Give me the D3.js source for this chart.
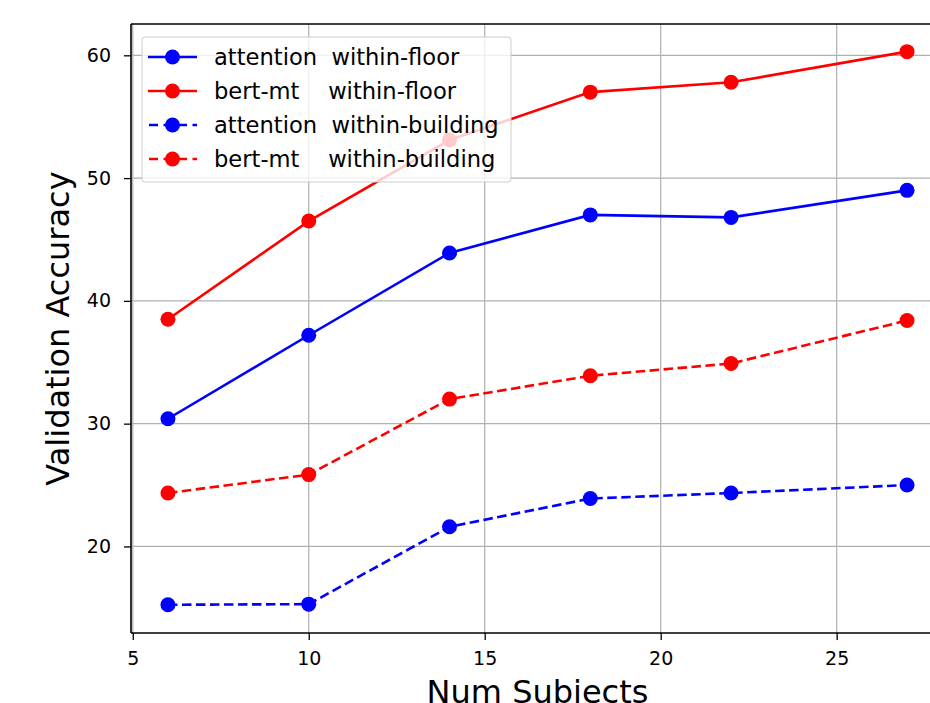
<!DOCTYPE html>
<html>
<head>
<meta charset="utf-8">
<script src="https://cdn.jsdelivr.net/npm/d3@7"></script>
<style>
  body { margin: 0; background: #fff; overflow: hidden; }
  text { font-family: "DejaVu Sans", sans-serif; fill: #000; }
</style>
</head>
<body>
<script>
// number of subjects on the x axis
var subjects = [6, 10, 14, 18, 22, 27];

// validation accuracy per model / setting
var attentionFloor    = [30.4, 37.2, 43.9, 47.0, 46.8, 49.0];
var bertFloor         = [38.5, 46.5, 53.1, 57.0, 57.8, 60.3];
var attentionBuilding = [15.25, 15.3, 21.6, 23.9, 24.35, 25.0];
var bertBuilding      = [24.35, 25.85, 32.0, 33.9, 34.9, 38.4];

var seriesNames = ["attention  within-floor", "bert-mt    within-floor",
                   "attention  within-building", "bert-mt    within-building"];

var xTicks = [5, 10, 15, 20, 25];
var yTicks = [20, 30, 40, 50, 60];

var w = 930, h = 703;
var pad = { left: 131, right: 944, top: 24, bottom: 633 };

var svg = d3.select("body").append("svg")
    .attr("width", w)
    .attr("height", h);

var xScale = d3.scaleLinear().domain([4.95, 28.05]).range([pad.left, pad.right]);
var yScale = d3.scaleLinear().domain([12.95, 62.55]).range([pad.bottom, pad.top]);

// grid
svg.append("g").selectAll("line").data(xTicks).enter().append("line")
    .attr("x1", function(d) { return xScale(d); })
    .attr("x2", function(d) { return xScale(d); })
    .attr("y1", pad.top).attr("y2", pad.bottom)
    .attr("stroke", "#b0b0b0").attr("stroke-width", 1.2);
svg.append("g").selectAll("line").data(yTicks).enter().append("line")
    .attr("y1", function(d) { return yScale(d); })
    .attr("y2", function(d) { return yScale(d); })
    .attr("x1", pad.left).attr("x2", pad.right)
    .attr("stroke", "#b0b0b0").attr("stroke-width", 1.2);

// series
var series = [
  { name: seriesNames[0], values: attentionFloor, color: "#0000ff", dash: null },
  { name: seriesNames[1], values: bertFloor, color: "#ff0000", dash: null },
  { name: seriesNames[2], values: attentionBuilding, color: "#0000ff", dash: "9.5,4.5" },
  { name: seriesNames[3], values: bertBuilding, color: "#ff0000", dash: "9.5,4.5" }
];

var line = d3.line()
    .x(function(d, i) { return xScale(subjects[i]); })
    .y(function(d) { return yScale(d); });

series.forEach(function(s) {
  svg.append("path")
      .datum(s.values)
      .attr("d", line)
      .attr("fill", "none")
      .attr("stroke", s.color)
      .attr("stroke-width", 2.6)
      .attr("stroke-dasharray", s.dash);
  svg.append("g").selectAll("circle").data(s.values).enter().append("circle")
      .attr("cx", function(d, i) { return xScale(subjects[i]); })
      .attr("cy", function(d) { return yScale(d); })
      .attr("r", 7.5)
      .attr("fill", s.color);
});

// axes
var xAxis = d3.axisBottom(xScale).tickValues(xTicks).tickSize(7).tickPadding(12);
var yAxis = d3.axisLeft(yScale).tickValues(yTicks).tickSize(7).tickPadding(13);

var gx = svg.append("g").attr("transform", "translate(0," + pad.bottom + ")").call(xAxis);
var gy = svg.append("g").attr("transform", "translate(" + pad.left + ",0)").call(yAxis);
[gx, gy].forEach(function(g) {
  g.select(".domain").remove();
  g.selectAll("line").attr("stroke", "#000").attr("stroke-width", 1.3);
  g.selectAll("text").style("font-size", "19px").style("font-family", "DejaVu Sans");
});

// spines
svg.append("line").attr("x1", pad.left).attr("x2", pad.right)
    .attr("y1", pad.bottom).attr("y2", pad.bottom)
    .attr("stroke", "#000").attr("stroke-width", 1.6);
svg.append("line").attr("x1", pad.left).attr("x2", pad.right)
    .attr("y1", pad.top).attr("y2", pad.top)
    .attr("stroke", "#000").attr("stroke-width", 1.6);
svg.append("line").attr("x1", pad.left).attr("x2", pad.left)
    .attr("y1", pad.top).attr("y2", pad.bottom)
    .attr("stroke", "#000").attr("stroke-width", 1.6);

// axis labels
svg.append("text")
    .attr("x", (pad.left + pad.right) / 2)
    .attr("y", 703)
    .attr("text-anchor", "middle")
    .style("font-size", "32px")
    .text("Num Subjects");

svg.append("text")
    .attr("transform", "translate(69," + (pad.top + pad.bottom) / 2 + ") rotate(-90)")
    .attr("text-anchor", "middle")
    .style("font-size", "32px")
    .text("Validation Accuracy");

// legend
var legend = svg.append("g");
legend.append("rect")
    .attr("x", 142).attr("y", 37)
    .attr("width", 369).attr("height", 145)
    .attr("rx", 3)
    .attr("fill", "#fff").attr("fill-opacity", 0.8)
    .attr("stroke", "#cccccc").attr("stroke-width", 1);

var rows = legend.selectAll("g.row").data(series).enter().append("g")
    .attr("transform", function(d, i) { return "translate(0," + (57 + i * 34) + ")"; });
rows.append("line")
    .attr("x1", 148).attr("x2", 197)
    .attr("stroke", function(d) { return d.color; })
    .attr("stroke-width", 2.6)
    .attr("stroke-dasharray", function(d) { return d.dash ? "9,5.5" : null; })
    .attr("stroke-dashoffset", function(d) { return d.dash ? -1 : null; });
rows.append("circle")
    .attr("cx", 172.5).attr("r", 7.5)
    .attr("fill", function(d) { return d.color; });
rows.append("text")
    .attr("x", 214)
    .attr("dy", "0.36em")
    .style("font-size", "22.6px")
    .style("white-space", "pre")
    .text(function(d) { return d.name; });
</script>
</body>
</html>
